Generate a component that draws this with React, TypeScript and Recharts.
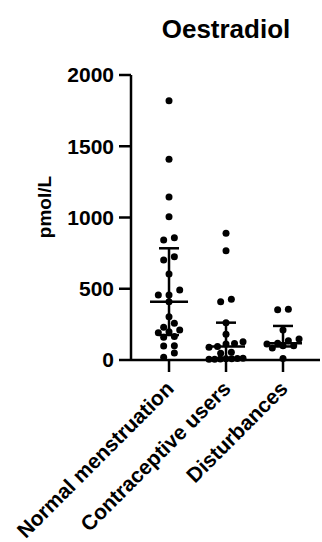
import { ScatterChart, Scatter, XAxis, YAxis, ErrorBar } from "recharts";

// groups on the x axis
const groups = ["Normal menstruation", "Contraceptive users", "Disturbances"];

// individual values (pmol/L)
const normalMenstruation = [
  1820, 1408, 1144, 1005, 858, 842, 725, 702, 604, 491, 456, 456, 409, 304,
  258, 229, 211, 199, 192, 165, 160, 100, 98, 49, 19,
];
const contraceptiveUsers = [
  889, 767, 426, 409, 262, 180, 128, 116, 112, 95, 90, 55, 48, 12, 10, 9, 8,
  7, 6, 5,
];
const disturbances = [356, 352, 211, 148, 135, 117, 112, 100, 100, 84, 10];

// median with error bar ends
const medians = [409, 95, 117];
const lowerBars = [175, 8, 95];
const upperBars = [784, 262, 239];

const yTicks = [0, 500, 1000, 1500, 2000];

const W = 322;
const H = 542;
const TOP = 75;
const PLOT_LEFT = 131;
const PLOT_RIGHT = 2;
const X_AXIS_H = 182;
const X_DOMAIN: [number, number] = [0.333, 3.649];
const Y_MAX = 2000;

const FONT = "'Liberation Sans', Arial, Helvetica, sans-serif";

// px per unit, used only for laying out the swarm
const PX_PER_X = (W - PLOT_LEFT - PLOT_RIGHT) / (X_DOMAIN[1] - X_DOMAIN[0]);
const PX_PER_Y = (H - TOP - X_AXIS_H) / Y_MAX;
const ROW_UNITS = 6 / PX_PER_Y;
const DOT_STEP = 10.7;
const MAX_ROW = 34;

function swarm(values: number[], group: number) {
  const sorted = [...values].sort((a, b) => b - a);
  const rows: number[][] = [];
  for (const v of sorted) {
    const row = rows[rows.length - 1];
    if (row && row[0] - v < ROW_UNITS) row.push(v);
    else rows.push([v]);
  }
  return rows.flatMap((row) => {
    const asc = [...row].sort((a, b) => a - b);
    const n = asc.length;
    const step = n > 1 ? Math.min(DOT_STEP, MAX_ROW / (n - 1)) : 0;
    return asc.map((v, i) => ({
      x: group + ((i - (n - 1) / 2) * step) / PX_PER_X,
      y: v,
    }));
  });
}

const points = [normalMenstruation, contraceptiveUsers, disturbances].flatMap(
  (vals, i) => swarm(vals, i + 1)
);

const summary = medians.map((m, i) => ({
  x: i + 1,
  y: m,
  err: [m - lowerBars[i], upperBars[i] - m],
}));

const Dot = (props: any) => (
  <circle cx={props.cx} cy={props.cy} r={3.5} fill="#000" />
);

const MedianLine = (props: any) => (
  <line
    x1={props.cx - 19}
    x2={props.cx + 19}
    y1={props.cy}
    y2={props.cy}
    stroke="#000"
    strokeWidth={2.5}
  />
);

const XTick = (props: any) => {
  const { x, y, payload } = props;
  return (
    <text
      transform={`translate(${x + 6},${y + 16}) rotate(-45)`}
      textAnchor="end"
      fontFamily={FONT}
      fontWeight="bold"
      fontSize={21}
      fill="#000"
    >
      {groups[payload.value - 1]}
    </text>
  );
};

export default function App() {
  return (
    <div style={{ position: "absolute", left: 0, top: 0, background: "#fff" }}>
      <ScatterChart
        width={W}
        height={H}
        margin={{ top: TOP, right: PLOT_RIGHT, bottom: 0, left: 0 }}
      >
        <XAxis
          type="number"
          dataKey="x"
          domain={X_DOMAIN}
          ticks={[1, 2, 3]}
          allowDataOverflow
          height={X_AXIS_H}
          tickSize={12}
          tick={<XTick />}
          axisLine={{ stroke: "#000", strokeWidth: 2.5 }}
          tickLine={{ stroke: "#000", strokeWidth: 2.5 }}
        />
        <YAxis
          type="number"
          dataKey="y"
          domain={[0, Y_MAX]}
          ticks={yTicks}
          width={PLOT_LEFT}
          tickSize={12}
          tickMargin={5}
          tick={{ fill: "#000", fontSize: 21, fontWeight: "bold", fontFamily: FONT }}
          axisLine={{ stroke: "#000", strokeWidth: 2.5 }}
          tickLine={{ stroke: "#000", strokeWidth: 2.5 }}
        />
        <Scatter data={points} shape={<Dot />} isAnimationActive={false} />
        <Scatter data={summary} shape={<MedianLine />} isAnimationActive={false}>
          <ErrorBar
            dataKey="err"
            direction="y"
            width={10}
            stroke="#000"
            strokeWidth={2.5}
          />
        </Scatter>
        <text
          x={226}
          y={38}
          textAnchor="middle"
          fontFamily={FONT}
          fontWeight="bold"
          fontSize={26}
          fill="#000"
        >
          Oestradiol
        </text>
        <text
          transform="translate(51,207) rotate(-90)"
          textAnchor="middle"
          fontFamily={FONT}
          fontWeight="bold"
          fontSize={19}
          fill="#000"
        >
          pmol/L
        </text>
      </ScatterChart>
    </div>
  );
}
